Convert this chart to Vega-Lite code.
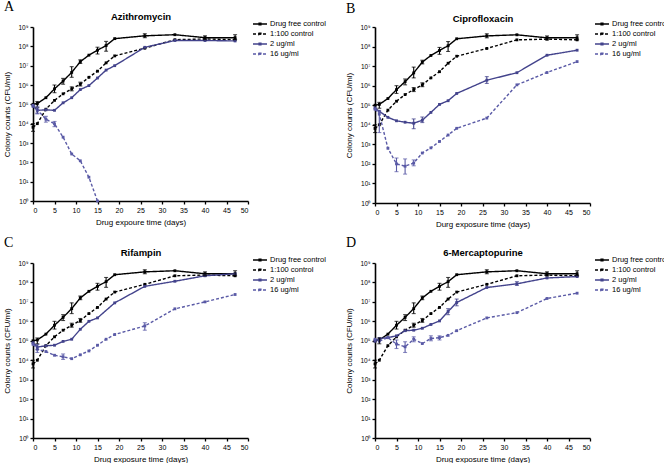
{
  "$schema": "https://vega.github.io/schema/vega-lite/v6.json",
  "padding": {"left": 3, "top": 0, "right": 0, "bottom": 0},
  "background": "white",
  "datasets": {
    "curves": [
      {"panel": "all", "series": "Drug free control", "day": 0, "cfu": 1.0e5},
      {"panel": "all", "series": "Drug free control", "day": 1, "cfu": 1.1e5},
      {"panel": "all", "series": "Drug free control", "day": 3, "cfu": 2.2e5},
      {"panel": "all", "series": "Drug free control", "day": 5, "cfu": 6.3e5},
      {"panel": "all", "series": "Drug free control", "day": 7, "cfu": 1.6e6},
      {"panel": "all", "series": "Drug free control", "day": 9, "cfu": 4.5e6},
      {"panel": "all", "series": "Drug free control", "day": 11, "cfu": 1.6e7},
      {"panel": "all", "series": "Drug free control", "day": 13, "cfu": 3.5e7},
      {"panel": "all", "series": "Drug free control", "day": 15, "cfu": 6.3e7},
      {"panel": "all", "series": "Drug free control", "day": 17, "cfu": 1.1e8},
      {"panel": "all", "series": "Drug free control", "day": 19, "cfu": 2.5e8},
      {"panel": "all", "series": "Drug free control", "day": 26, "cfu": 3.5e8},
      {"panel": "all", "series": "Drug free control", "day": 33, "cfu": 4.0e8},
      {"panel": "all", "series": "Drug free control", "day": 40, "cfu": 2.8e8},
      {"panel": "all", "series": "Drug free control", "day": 47, "cfu": 2.8e8},
      {"panel": "all", "series": "1:100 control", "day": 0, "cfu": 6.5e3},
      {"panel": "all", "series": "1:100 control", "day": 1, "cfu": 1.0e4},
      {"panel": "all", "series": "1:100 control", "day": 3, "cfu": 5.6e4},
      {"panel": "all", "series": "1:100 control", "day": 5, "cfu": 1.6e5},
      {"panel": "all", "series": "1:100 control", "day": 7, "cfu": 3.5e5},
      {"panel": "all", "series": "1:100 control", "day": 9, "cfu": 6.3e5},
      {"panel": "all", "series": "1:100 control", "day": 11, "cfu": 1.1e6},
      {"panel": "all", "series": "1:100 control", "day": 13, "cfu": 2.5e6},
      {"panel": "all", "series": "1:100 control", "day": 15, "cfu": 5.2e6},
      {"panel": "all", "series": "1:100 control", "day": 17, "cfu": 1.4e7},
      {"panel": "all", "series": "1:100 control", "day": 19, "cfu": 3.2e7},
      {"panel": "all", "series": "1:100 control", "day": 26, "cfu": 8.0e7},
      {"panel": "all", "series": "1:100 control", "day": 33, "cfu": 2.2e8},
      {"panel": "all", "series": "1:100 control", "day": 40, "cfu": 2.4e8},
      {"panel": "all", "series": "1:100 control", "day": 47, "cfu": 2.2e8},
      {"panel": "A", "series": "2 ug/ml", "day": 0, "cfu": 7.9e4},
      {"panel": "A", "series": "2 ug/ml", "day": 1, "cfu": 4.9e4},
      {"panel": "A", "series": "2 ug/ml", "day": 3, "cfu": 5.2e4},
      {"panel": "A", "series": "2 ug/ml", "day": 5, "cfu": 4.9e4},
      {"panel": "A", "series": "2 ug/ml", "day": 7, "cfu": 1.2e5},
      {"panel": "A", "series": "2 ug/ml", "day": 9, "cfu": 2.2e5},
      {"panel": "A", "series": "2 ug/ml", "day": 11, "cfu": 5.8e5},
      {"panel": "A", "series": "2 ug/ml", "day": 13, "cfu": 9.3e5},
      {"panel": "A", "series": "2 ug/ml", "day": 15, "cfu": 2.3e6},
      {"panel": "A", "series": "2 ug/ml", "day": 17, "cfu": 5.9e6},
      {"panel": "A", "series": "2 ug/ml", "day": 19, "cfu": 1.0e7},
      {"panel": "A", "series": "2 ug/ml", "day": 26, "cfu": 8.9e7},
      {"panel": "A", "series": "2 ug/ml", "day": 33, "cfu": 2.0e8},
      {"panel": "A", "series": "2 ug/ml", "day": 40, "cfu": 2.0e8},
      {"panel": "A", "series": "2 ug/ml", "day": 47, "cfu": 1.9e8},
      {"panel": "A", "series": "16 ug/ml", "day": 0, "cfu": 8.9e4},
      {"panel": "A", "series": "16 ug/ml", "day": 1, "cfu": 5.2e4},
      {"panel": "A", "series": "16 ug/ml", "day": 3, "cfu": 1.7e4},
      {"panel": "A", "series": "16 ug/ml", "day": 5, "cfu": 9.8e3},
      {"panel": "A", "series": "16 ug/ml", "day": 7, "cfu": 2.0e3},
      {"panel": "A", "series": "16 ug/ml", "day": 9, "cfu": 2.7e2},
      {"panel": "A", "series": "16 ug/ml", "day": 11, "cfu": 1.2e2},
      {"panel": "A", "series": "16 ug/ml", "day": 13, "cfu": 1.7e1},
      {"panel": "A", "series": "16 ug/ml", "day": 15, "cfu": 1},
      {"panel": "B", "series": "2 ug/ml", "day": 0, "cfu": 7.2e4},
      {"panel": "B", "series": "2 ug/ml", "day": 1, "cfu": 4.9e4},
      {"panel": "B", "series": "2 ug/ml", "day": 3, "cfu": 2.4e4},
      {"panel": "B", "series": "2 ug/ml", "day": 5, "cfu": 1.6e4},
      {"panel": "B", "series": "2 ug/ml", "day": 7, "cfu": 1.35e4},
      {"panel": "B", "series": "2 ug/ml", "day": 9, "cfu": 1.2e4},
      {"panel": "B", "series": "2 ug/ml", "day": 11, "cfu": 1.7e4},
      {"panel": "B", "series": "2 ug/ml", "day": 13, "cfu": 4.3e4},
      {"panel": "B", "series": "2 ug/ml", "day": 15, "cfu": 1.1e5},
      {"panel": "B", "series": "2 ug/ml", "day": 17, "cfu": 1.7e5},
      {"panel": "B", "series": "2 ug/ml", "day": 19, "cfu": 4.0e5},
      {"panel": "B", "series": "2 ug/ml", "day": 26, "cfu": 1.9e6},
      {"panel": "B", "series": "2 ug/ml", "day": 33, "cfu": 4.6e6},
      {"panel": "B", "series": "2 ug/ml", "day": 40, "cfu": 3.6e7},
      {"panel": "B", "series": "2 ug/ml", "day": 47, "cfu": 6.5e7},
      {"panel": "B", "series": "16 ug/ml", "day": 0, "cfu": 6.3e4},
      {"panel": "B", "series": "16 ug/ml", "day": 1, "cfu": 3.5e4},
      {"panel": "B", "series": "16 ug/ml", "day": 3, "cfu": 6.3e2},
      {"panel": "B", "series": "16 ug/ml", "day": 5, "cfu": 1.0e2},
      {"panel": "B", "series": "16 ug/ml", "day": 7, "cfu": 7.6e1},
      {"panel": "B", "series": "16 ug/ml", "day": 9, "cfu": 1.1e2},
      {"panel": "B", "series": "16 ug/ml", "day": 11, "cfu": 3.6e2},
      {"panel": "B", "series": "16 ug/ml", "day": 13, "cfu": 6.6e2},
      {"panel": "B", "series": "16 ug/ml", "day": 15, "cfu": 1.4e3},
      {"panel": "B", "series": "16 ug/ml", "day": 17, "cfu": 3.0e3},
      {"panel": "B", "series": "16 ug/ml", "day": 19, "cfu": 6.6e3},
      {"panel": "B", "series": "16 ug/ml", "day": 26, "cfu": 2.2e4},
      {"panel": "B", "series": "16 ug/ml", "day": 33, "cfu": 1.1e6},
      {"panel": "B", "series": "16 ug/ml", "day": 40, "cfu": 4.7e6},
      {"panel": "B", "series": "16 ug/ml", "day": 47, "cfu": 1.7e7},
      {"panel": "C", "series": "2 ug/ml", "day": 0, "cfu": 7.9e4},
      {"panel": "C", "series": "2 ug/ml", "day": 1, "cfu": 4.8e4},
      {"panel": "C", "series": "2 ug/ml", "day": 3, "cfu": 5.5e4},
      {"panel": "C", "series": "2 ug/ml", "day": 5, "cfu": 5.9e4},
      {"panel": "C", "series": "2 ug/ml", "day": 7, "cfu": 9.3e4},
      {"panel": "C", "series": "2 ug/ml", "day": 9, "cfu": 1.2e5},
      {"panel": "C", "series": "2 ug/ml", "day": 11, "cfu": 3.9e5},
      {"panel": "C", "series": "2 ug/ml", "day": 13, "cfu": 1.0e6},
      {"panel": "C", "series": "2 ug/ml", "day": 15, "cfu": 1.5e6},
      {"panel": "C", "series": "2 ug/ml", "day": 19, "cfu": 8.9e6},
      {"panel": "C", "series": "2 ug/ml", "day": 26, "cfu": 6.3e7},
      {"panel": "C", "series": "2 ug/ml", "day": 33, "cfu": 1.15e8},
      {"panel": "C", "series": "2 ug/ml", "day": 40, "cfu": 2.2e8},
      {"panel": "C", "series": "2 ug/ml", "day": 47, "cfu": 2.8e8},
      {"panel": "C", "series": "16 ug/ml", "day": 0, "cfu": 6.6e4},
      {"panel": "C", "series": "16 ug/ml", "day": 1, "cfu": 3.7e4},
      {"panel": "C", "series": "16 ug/ml", "day": 3, "cfu": 2.8e4},
      {"panel": "C", "series": "16 ug/ml", "day": 5, "cfu": 1.8e4},
      {"panel": "C", "series": "16 ug/ml", "day": 7, "cfu": 1.5e4},
      {"panel": "C", "series": "16 ug/ml", "day": 9, "cfu": 1.2e4},
      {"panel": "C", "series": "16 ug/ml", "day": 11, "cfu": 1.9e4},
      {"panel": "C", "series": "16 ug/ml", "day": 13, "cfu": 3.0e4},
      {"panel": "C", "series": "16 ug/ml", "day": 15, "cfu": 5.9e4},
      {"panel": "C", "series": "16 ug/ml", "day": 17, "cfu": 1.2e5},
      {"panel": "C", "series": "16 ug/ml", "day": 19, "cfu": 2.1e5},
      {"panel": "C", "series": "16 ug/ml", "day": 26, "cfu": 5.8e5},
      {"panel": "C", "series": "16 ug/ml", "day": 33, "cfu": 4.4e6},
      {"panel": "C", "series": "16 ug/ml", "day": 40, "cfu": 1.0e7},
      {"panel": "C", "series": "16 ug/ml", "day": 47, "cfu": 2.4e7},
      {"panel": "D", "series": "2 ug/ml", "day": 0, "cfu": 9.5e4},
      {"panel": "D", "series": "2 ug/ml", "day": 1, "cfu": 1.3e5},
      {"panel": "D", "series": "2 ug/ml", "day": 3, "cfu": 1.45e5},
      {"panel": "D", "series": "2 ug/ml", "day": 5, "cfu": 1.8e5},
      {"panel": "D", "series": "2 ug/ml", "day": 7, "cfu": 3.3e5},
      {"panel": "D", "series": "2 ug/ml", "day": 9, "cfu": 3.5e5},
      {"panel": "D", "series": "2 ug/ml", "day": 11, "cfu": 4.4e5},
      {"panel": "D", "series": "2 ug/ml", "day": 13, "cfu": 6.9e5},
      {"panel": "D", "series": "2 ug/ml", "day": 15, "cfu": 1.05e6},
      {"panel": "D", "series": "2 ug/ml", "day": 17, "cfu": 3.2e6},
      {"panel": "D", "series": "2 ug/ml", "day": 19, "cfu": 9.3e6},
      {"panel": "D", "series": "2 ug/ml", "day": 26, "cfu": 5.5e7},
      {"panel": "D", "series": "2 ug/ml", "day": 33, "cfu": 8.5e7},
      {"panel": "D", "series": "2 ug/ml", "day": 40, "cfu": 1.7e8},
      {"panel": "D", "series": "2 ug/ml", "day": 47, "cfu": 2.0e8},
      {"panel": "D", "series": "16 ug/ml", "day": 0, "cfu": 1.2e5},
      {"panel": "D", "series": "16 ug/ml", "day": 1, "cfu": 9.5e4},
      {"panel": "D", "series": "16 ug/ml", "day": 3, "cfu": 1.45e5},
      {"panel": "D", "series": "16 ug/ml", "day": 5, "cfu": 6.8e4},
      {"panel": "D", "series": "16 ug/ml", "day": 7, "cfu": 4.9e4},
      {"panel": "D", "series": "16 ug/ml", "day": 9, "cfu": 1.2e5},
      {"panel": "D", "series": "16 ug/ml", "day": 11, "cfu": 7.2e4},
      {"panel": "D", "series": "16 ug/ml", "day": 13, "cfu": 1.3e5},
      {"panel": "D", "series": "16 ug/ml", "day": 15, "cfu": 1.45e5},
      {"panel": "D", "series": "16 ug/ml", "day": 17, "cfu": 1.9e5},
      {"panel": "D", "series": "16 ug/ml", "day": 19, "cfu": 3.3e5},
      {"panel": "D", "series": "16 ug/ml", "day": 26, "cfu": 1.5e6},
      {"panel": "D", "series": "16 ug/ml", "day": 33, "cfu": 2.8e6},
      {"panel": "D", "series": "16 ug/ml", "day": 40, "cfu": 1.5e7},
      {"panel": "D", "series": "16 ug/ml", "day": 47, "cfu": 2.8e7}
    ],
    "errs": [
      {"panel": "all", "series": "Drug free control", "day": 1, "lo": 7.0e4, "hi": 1.4e5},
      {"panel": "all", "series": "Drug free control", "day": 5, "lo": 4.0e5, "hi": 1.0e6},
      {"panel": "all", "series": "Drug free control", "day": 7, "lo": 1.1e6, "hi": 2.2e6},
      {"panel": "all", "series": "Drug free control", "day": 9, "lo": 2.5e6, "hi": 8.9e6},
      {"panel": "all", "series": "Drug free control", "day": 11, "lo": 1.3e7, "hi": 2.0e7},
      {"panel": "all", "series": "Drug free control", "day": 15, "lo": 4.0e7, "hi": 9.0e7},
      {"panel": "all", "series": "Drug free control", "day": 17, "lo": 5.6e7, "hi": 1.8e8},
      {"panel": "all", "series": "Drug free control", "day": 26, "lo": 2.8e8, "hi": 4.5e8},
      {"panel": "all", "series": "Drug free control", "day": 40, "lo": 2.2e8, "hi": 3.5e8},
      {"panel": "all", "series": "Drug free control", "day": 47, "lo": 2.2e8, "hi": 4.0e8},
      {"panel": "all", "series": "1:100 control", "day": 0, "lo": 4.0e3, "hi": 1.0e4},
      {"panel": "all", "series": "1:100 control", "day": 9, "lo": 5.0e5, "hi": 8.0e5},
      {"panel": "all", "series": "1:100 control", "day": 11, "lo": 8.9e5, "hi": 1.4e6},
      {"panel": "A", "series": "16 ug/ml", "day": 1, "lo": 3.2e4, "hi": 8.0e4},
      {"panel": "A", "series": "16 ug/ml", "day": 3, "lo": 1.2e4, "hi": 2.4e4},
      {"panel": "A", "series": "16 ug/ml", "day": 5, "lo": 7.0e3, "hi": 1.3e4},
      {"panel": "A", "series": "2 ug/ml", "day": 1, "lo": 3.5e4, "hi": 6.5e4},
      {"panel": "B", "series": "16 ug/ml", "day": 1, "lo": 4.0e3, "hi": 5.0e4},
      {"panel": "B", "series": "16 ug/ml", "day": 5, "lo": 4.0e1, "hi": 2.0e2},
      {"panel": "B", "series": "16 ug/ml", "day": 7, "lo": 3.0e1, "hi": 1.8e2},
      {"panel": "B", "series": "16 ug/ml", "day": 9, "lo": 8.0e1, "hi": 1.6e2},
      {"panel": "B", "series": "2 ug/ml", "day": 9, "lo": 6.3e3, "hi": 2.0e4},
      {"panel": "B", "series": "2 ug/ml", "day": 11, "lo": 1.3e4, "hi": 2.5e4},
      {"panel": "B", "series": "2 ug/ml", "day": 26, "lo": 1.3e6, "hi": 2.9e6},
      {"panel": "C", "series": "16 ug/ml", "day": 1, "lo": 2.5e4, "hi": 5.0e4},
      {"panel": "C", "series": "16 ug/ml", "day": 7, "lo": 1.1e4, "hi": 2.1e4},
      {"panel": "C", "series": "16 ug/ml", "day": 26, "lo": 3.5e5, "hi": 8.5e5},
      {"panel": "C", "series": "2 ug/ml", "day": 1, "lo": 3.5e4, "hi": 6.5e4},
      {"panel": "D", "series": "16 ug/ml", "day": 5, "lo": 4.0e4, "hi": 1.1e5},
      {"panel": "D", "series": "16 ug/ml", "day": 7, "lo": 2.5e4, "hi": 8.9e4},
      {"panel": "D", "series": "16 ug/ml", "day": 9, "lo": 8.9e4, "hi": 1.6e5},
      {"panel": "D", "series": "16 ug/ml", "day": 13, "lo": 1.0e5, "hi": 1.8e5},
      {"panel": "D", "series": "16 ug/ml", "day": 15, "lo": 1.1e5, "hi": 1.8e5},
      {"panel": "D", "series": "2 ug/ml", "day": 17, "lo": 2.2e6, "hi": 4.5e6},
      {"panel": "D", "series": "2 ug/ml", "day": 19, "lo": 6.3e6, "hi": 1.4e7},
      {"panel": "D", "series": "2 ug/ml", "day": 33, "lo": 7.0e7, "hi": 1.1e8}
    ]
  },
  "config": {
    "font": "Liberation Sans",
    "view": {"stroke": null},
    "axis": {
      "grid": false,
      "domainColor": "#000000",
      "domainWidth": 1.6,
      "tickColor": "#000000",
      "tickWidth": 1.3,
      "tickSize": 3,
      "labelFontSize": 6.5,
      "labelColor": "#000000",
      "labelPadding": 2,
      "titleFontSize": 8,
      "titleFontWeight": "normal",
      "titleColor": "#000000"
    },
    "axisBottom": {"titleY": 17, "titleBaseline": "top"},
    "legend": {
      "orient": "none",
      "legendX": 219,
      "legendY": -8,
      "labelFontSize": 7.5,
      "labelColor": "#000000",
      "symbolType": "M-1,0L1,0M-0.12,-0.12L0.12,-0.12L0.12,0.12L-0.12,0.12Z",
      "symbolSize": 196,
      "symbolStrokeWidth": 1.5,
      "clipHeight": 10,
      "rowPadding": 0,
      "labelOffset": 2,
      "padding": 0
    },
    "title": {"font": "Liberation Serif", "fontSize": 14, "fontWeight": "normal", "anchor": "start", "frame": "bounds", "offset": -3, "color": "#000000"}
  },
  "spacing": 8,
  "resolve": {"legend": {"color": "independent", "strokeDash": "independent"}},
  "vconcat": [
    {
      "spacing": 19,
      "resolve": {"legend": {"color": "independent", "strokeDash": "independent"}},
      "hconcat": [
        {
          "width": 215, "height": 174,
          "title": {"text": "A"},
          "resolve": {"axis": {"x": "independent"}},
          "layer": [
            {
              "data": {"name": "curves"},
              "transform": [{"filter": "datum.panel == 'A' || datum.panel == 'all'"}],
              "mark": {"type": "line", "strokeWidth": 1.4, "point": {"shape": "square", "size": 8, "filled": true}},
              "encoding": {
                "x": {"field": "day", "type": "quantitative", "scale": {"domain": [0, 50]}, "axis": {"values": [0, 5, 10, 15, 20, 25, 30, 35, 40, 45, 50], "labelFontSize": 7, "title": "Drug expoure time (days)"}},
                "y": {"field": "cfu", "type": "quantitative", "scale": {"type": "log", "domain": [1, 1000000000]}, "axis": {"values": [1, 10, 100, 1000, 10000, 100000, 1000000, 10000000, 100000000, 1000000000], "labelExpr": "'10' + ['⁰','¹','²','³','⁴','⁵','⁶','⁷','⁸','⁹'][round(log(datum.value)/LN10)]", "title": "Colony counts (CFU/ml)", "titlePadding": 6}},
                "color": {"field": "series", "type": "nominal", "scale": {"domain": ["Drug free control", "1:100 control", "2 ug/ml", "16 ug/ml"], "range": ["#000000", "#000000", "#43438c", "#5a5aa6"]}, "legend": {"title": null}},
                "strokeDash": {"field": "series", "type": "nominal", "scale": {"domain": ["Drug free control", "1:100 control", "2 ug/ml", "16 ug/ml"], "range": [[1, 0], [3, 2], [1, 0], [3, 2]]}, "legend": {"title": null}}
              }
            },
            {
              "data": {"name": "errs"},
              "transform": [{"filter": "datum.panel == 'A' || datum.panel == 'all'"}],
              "mark": {"type": "errorbar", "ticks": {"size": 4}, "thickness": 1.1},
              "encoding": {
                "x": {"field": "day", "type": "quantitative", "axis": null},
                "y": {"field": "lo", "type": "quantitative", "axis": {"title": "Colony counts (CFU/ml)"}},
                "y2": {"field": "hi"},
                "color": {"field": "series", "type": "nominal", "legend": null}
              }
            },
            {
              "data": {"values": [{}]},
              "mark": {"type": "point", "opacity": 0},
              "encoding": {
                "x": {"datum": 25, "type": "quantitative", "axis": {"orient": "top", "title": "Azithromycin", "titleFontWeight": "bold", "titleFontSize": 9.5, "domain": false, "ticks": false, "labels": false, "titlePadding": 6}}
              }
            }
          ]
        },
        {
          "width": 215, "height": 176,
          "title": {"text": "B"},
          "resolve": {"axis": {"x": "independent"}},
          "layer": [
            {
              "data": {"name": "curves"},
              "transform": [{"filter": "datum.panel == 'B' || datum.panel == 'all'"}],
              "mark": {"type": "line", "strokeWidth": 1.4, "point": {"shape": "square", "size": 8, "filled": true}},
              "encoding": {
                "x": {"field": "day", "type": "quantitative", "scale": {"domain": [0, 50]}, "axis": {"values": [0, 5, 10, 15, 20, 25, 30, 35, 40, 45, 50], "labelFontSize": 7, "title": "Durg exposure time (days)"}},
                "y": {"field": "cfu", "type": "quantitative", "scale": {"type": "log", "domain": [1, 1000000000]}, "axis": {"values": [1, 10, 100, 1000, 10000, 100000, 1000000, 10000000, 100000000, 1000000000], "labelExpr": "'10' + ['⁰','¹','²','³','⁴','⁵','⁶','⁷','⁸','⁹'][round(log(datum.value)/LN10)]", "title": "Colony counts (CFU/ml)", "titlePadding": 6}},
                "color": {"field": "series", "type": "nominal", "scale": {"domain": ["Drug free control", "1:100 control", "2 ug/ml", "16 ug/ml"], "range": ["#000000", "#000000", "#43438c", "#5a5aa6"]}, "legend": {"title": null}},
                "strokeDash": {"field": "series", "type": "nominal", "scale": {"domain": ["Drug free control", "1:100 control", "2 ug/ml", "16 ug/ml"], "range": [[1, 0], [3, 2], [1, 0], [3, 2]]}, "legend": {"title": null}}
              }
            },
            {
              "data": {"name": "errs"},
              "transform": [{"filter": "datum.panel == 'B' || datum.panel == 'all'"}],
              "mark": {"type": "errorbar", "ticks": {"size": 4}, "thickness": 1.1},
              "encoding": {
                "x": {"field": "day", "type": "quantitative", "axis": null},
                "y": {"field": "lo", "type": "quantitative", "axis": {"title": "Colony counts (CFU/ml)"}},
                "y2": {"field": "hi"},
                "color": {"field": "series", "type": "nominal", "legend": null}
              }
            },
            {
              "data": {"values": [{}]},
              "mark": {"type": "point", "opacity": 0},
              "encoding": {
                "x": {"datum": 25, "type": "quantitative", "axis": {"orient": "top", "title": "Ciprofloxacin", "titleFontWeight": "bold", "titleFontSize": 9.5, "domain": false, "ticks": false, "labels": false, "titlePadding": 4}}
              }
            }
          ]
        }
      ]
    },
    {
      "spacing": 19,
      "resolve": {"legend": {"color": "independent", "strokeDash": "independent"}},
      "hconcat": [
        {
          "width": 215, "height": 175,
          "title": {"text": "C"},
          "resolve": {"axis": {"x": "independent"}},
          "layer": [
            {
              "data": {"name": "curves"},
              "transform": [{"filter": "datum.panel == 'C' || datum.panel == 'all'"}],
              "mark": {"type": "line", "strokeWidth": 1.4, "point": {"shape": "square", "size": 8, "filled": true}},
              "encoding": {
                "x": {"field": "day", "type": "quantitative", "scale": {"domain": [0, 50]}, "axis": {"values": [0, 5, 10, 15, 20, 25, 30, 35, 40, 45, 50], "labelFontSize": 7, "title": "Drug exposure time (days)"}},
                "y": {"field": "cfu", "type": "quantitative", "scale": {"type": "log", "domain": [1, 1000000000]}, "axis": {"values": [1, 10, 100, 1000, 10000, 100000, 1000000, 10000000, 100000000, 1000000000], "labelExpr": "'10' + ['⁰','¹','²','³','⁴','⁵','⁶','⁷','⁸','⁹'][round(log(datum.value)/LN10)]", "title": "Colony counts (CFU/ml)", "titlePadding": 6}},
                "color": {"field": "series", "type": "nominal", "scale": {"domain": ["Drug free control", "1:100 control", "2 ug/ml", "16 ug/ml"], "range": ["#000000", "#000000", "#43438c", "#5a5aa6"]}, "legend": {"title": null}},
                "strokeDash": {"field": "series", "type": "nominal", "scale": {"domain": ["Drug free control", "1:100 control", "2 ug/ml", "16 ug/ml"], "range": [[1, 0], [3, 2], [1, 0], [3, 2]]}, "legend": {"title": null}}
              }
            },
            {
              "data": {"name": "errs"},
              "transform": [{"filter": "datum.panel == 'C' || datum.panel == 'all'"}],
              "mark": {"type": "errorbar", "ticks": {"size": 4}, "thickness": 1.1},
              "encoding": {
                "x": {"field": "day", "type": "quantitative", "axis": null},
                "y": {"field": "lo", "type": "quantitative", "axis": {"title": "Colony counts (CFU/ml)"}},
                "y2": {"field": "hi"},
                "color": {"field": "series", "type": "nominal", "legend": null}
              }
            },
            {
              "data": {"values": [{}]},
              "mark": {"type": "point", "opacity": 0},
              "encoding": {
                "x": {"datum": 25, "type": "quantitative", "axis": {"orient": "top", "title": "Rifampin", "titleFontWeight": "bold", "titleFontSize": 9.5, "domain": false, "ticks": false, "labels": false, "titlePadding": 6}}
              }
            }
          ]
        },
        {
          "width": 215, "height": 175,
          "title": {"text": "D"},
          "resolve": {"axis": {"x": "independent"}},
          "layer": [
            {
              "data": {"name": "curves"},
              "transform": [{"filter": "datum.panel == 'D' || datum.panel == 'all'"}],
              "mark": {"type": "line", "strokeWidth": 1.4, "point": {"shape": "square", "size": 8, "filled": true}},
              "encoding": {
                "x": {"field": "day", "type": "quantitative", "scale": {"domain": [0, 50]}, "axis": {"values": [0, 5, 10, 15, 20, 25, 30, 35, 40, 45, 50], "labelFontSize": 7, "title": "Drug exposure time (days)"}},
                "y": {"field": "cfu", "type": "quantitative", "scale": {"type": "log", "domain": [1, 1000000000]}, "axis": {"values": [1, 10, 100, 1000, 10000, 100000, 1000000, 10000000, 100000000, 1000000000], "labelExpr": "'10' + ['⁰','¹','²','³','⁴','⁵','⁶','⁷','⁸','⁹'][round(log(datum.value)/LN10)]", "title": "Colony counts (CFU/ml)", "titlePadding": 6}},
                "color": {"field": "series", "type": "nominal", "scale": {"domain": ["Drug free control", "1:100 control", "2 ug/ml", "16 ug/ml"], "range": ["#000000", "#000000", "#43438c", "#5a5aa6"]}, "legend": {"title": null}},
                "strokeDash": {"field": "series", "type": "nominal", "scale": {"domain": ["Drug free control", "1:100 control", "2 ug/ml", "16 ug/ml"], "range": [[1, 0], [3, 2], [1, 0], [3, 2]]}, "legend": {"title": null}}
              }
            },
            {
              "data": {"name": "errs"},
              "transform": [{"filter": "datum.panel == 'D' || datum.panel == 'all'"}],
              "mark": {"type": "errorbar", "ticks": {"size": 4}, "thickness": 1.1},
              "encoding": {
                "x": {"field": "day", "type": "quantitative", "axis": null},
                "y": {"field": "lo", "type": "quantitative", "axis": {"title": "Colony counts (CFU/ml)"}},
                "y2": {"field": "hi"},
                "color": {"field": "series", "type": "nominal", "legend": null}
              }
            },
            {
              "data": {"values": [{}]},
              "mark": {"type": "point", "opacity": 0},
              "encoding": {
                "x": {"datum": 25, "type": "quantitative", "axis": {"orient": "top", "title": "6-Mercaptopurine", "titleFontWeight": "bold", "titleFontSize": 9.5, "domain": false, "ticks": false, "labels": false, "titlePadding": 6}}
              }
            }
          ]
        }
      ]
    }
  ]
}
